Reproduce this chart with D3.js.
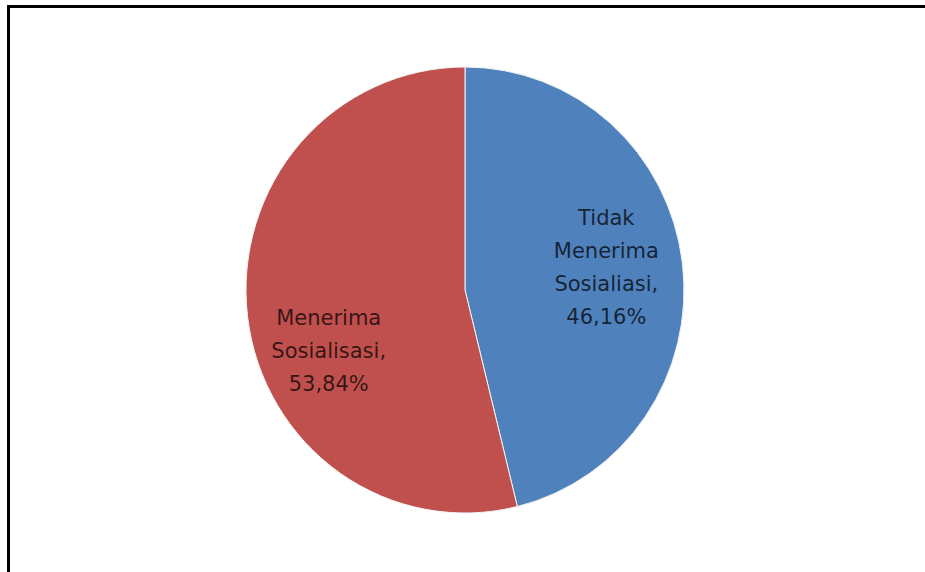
<!DOCTYPE html>
<html>
<head>
<meta charset="utf-8">
<script src="https://cdn.jsdelivr.net/npm/d3@7/dist/d3.min.js"></script>
<style>
  html, body { margin: 0; padding: 0; background: #fff; }
  svg { display: block; }
</style>
</head>
<body>
<div id="chart"></div>
<script>
// Survey share: respondents who did / did not receive the outreach
const categories = ["Tidak Menerima Sosialiasi", "Menerima Sosialisasi"];
const values = [46.16, 53.84];
const labelLines = [
  ["Tidak", "Menerima", "Sosialiasi,", "46,16%"],
  ["Menerima", "Sosialisasi,", "53,84%"]
];
const colors = ["#4F81BD", "#C0504D"];

const width = 925, height = 572;
const cx = 465, cy = 290, radius = 219, yStretch = 223 / 219;

const svg = d3.select("#chart").append("svg")
  .attr("width", width)
  .attr("height", height);

// frame around the chart area
svg.append("rect")
  .attr("x", 8.5).attr("y", 6.5)
  .attr("width", width + 20).attr("height", height + 20)
  .attr("fill", "none")
  .attr("stroke", "#000")
  .attr("stroke-width", 3);

const pie = d3.pie().sort(null).value(d => d)(values);
const arc = d3.arc().innerRadius(0).outerRadius(radius);

const g = svg.append("g").attr("transform", `translate(${cx},${cy})`);

g.append("g")
  .attr("transform", `scale(1,${yStretch})`)
  .selectAll("path.slice")
  .data(pie)
  .join("path")
  .attr("class", "slice")
  .attr("d", arc)
  .attr("fill", (d, i) => colors[i])
  .attr("stroke", "#f4f4f4")
  .attr("stroke-width", 1)
  .attr("vector-effect", "non-scaling-stroke");

// data labels placed inside each slice along its mid-angle
const labelRadius = 0.65 * radius;
const labelShift = [[0, 2], [5, 51]];
const lineH = 33;

pie.forEach((d, i) => {
  const a = (d.startAngle + d.endAngle) / 2;
  const x = Math.sin(a) * labelRadius + labelShift[i][0];
  const y = -Math.cos(a) * labelRadius + labelShift[i][1];
  const lines = labelLines[i];
  const t = g.append("text")
    .attr("text-anchor", "middle")
    .attr("font-family", "DejaVu Sans, sans-serif")
    .attr("font-size", 21)
    .attr("fill", "#000")
    .attr("fill-opacity", 0.74);
  lines.forEach((ln, k) => {
    t.append("tspan")
      .attr("x", x)
      .attr("y", y + (k - (lines.length - 1) / 2) * lineH)
      .text(ln);
  });
});
</script>
</body>
</html>
